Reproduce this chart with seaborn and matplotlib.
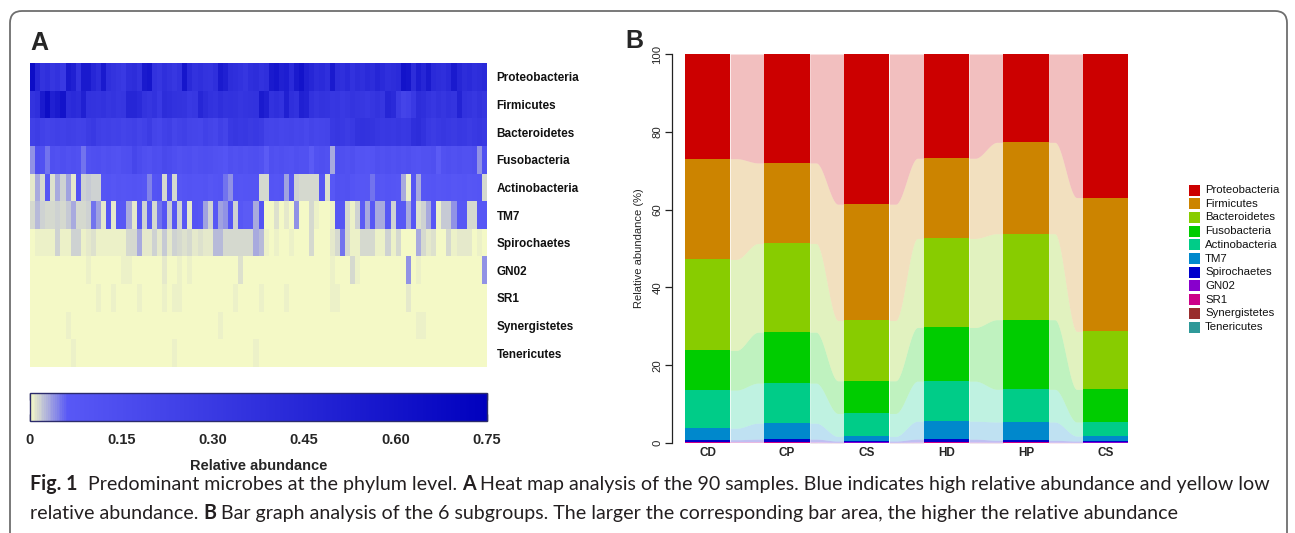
import numpy as np
import pandas as pd
import seaborn as sns
import matplotlib
matplotlib.use("Agg")
import matplotlib.pyplot as plt
from matplotlib.colors import LinearSegmentedColormap
from matplotlib.patches import Rectangle, FancyBboxPatch
from matplotlib.transforms import IdentityTransform

W, H = 1295, 533

# ---- Panel A: heat map (relative abundance, 90 samples) ----
phyla = ["Proteobacteria", "Firmicutes", "Bacteroidetes", "Fusobacteria",
         "Actinobacteria", "TM7", "Spirochaetes", "GN02", "SR1",
         "Synergistetes", "Tenericutes"]

hm_proteobacteria = [
    0.65, 0.45, 0.35, 0.38, 0.33, 0.36, 0.30, 0.55, 0.50, 0.35,
    0.55, 0.55, 0.45, 0.40, 0.55, 0.38, 0.35, 0.33, 0.30, 0.38,
    0.40, 0.35, 0.55, 0.58, 0.36, 0.33, 0.38, 0.35, 0.32, 0.36,
    0.58, 0.42, 0.36, 0.38, 0.35, 0.34, 0.38, 0.55, 0.50, 0.40,
    0.38, 0.36, 0.33, 0.38, 0.40, 0.36, 0.38, 0.55, 0.58, 0.50,
    0.52, 0.42, 0.55, 0.60, 0.50, 0.45, 0.40, 0.42, 0.38, 0.55,
    0.40, 0.38, 0.42, 0.36, 0.40, 0.38, 0.42, 0.40, 0.45, 0.42,
    0.38, 0.40, 0.42, 0.60, 0.58, 0.40, 0.52, 0.45, 0.55, 0.42,
    0.40, 0.38, 0.42, 0.55, 0.45, 0.40, 0.42, 0.38, 0.40, 0.42]
hm_firmicutes = [
    0.35, 0.38, 0.55, 0.65, 0.50, 0.55, 0.60, 0.40, 0.42, 0.40,
    0.50, 0.36, 0.35, 0.34, 0.36, 0.33, 0.34, 0.32, 0.33, 0.45,
    0.45, 0.42, 0.35, 0.33, 0.36, 0.30, 0.40, 0.38, 0.36, 0.35,
    0.34, 0.30, 0.32, 0.45, 0.40, 0.36, 0.34, 0.38, 0.35, 0.36,
    0.35, 0.33, 0.34, 0.35, 0.36, 0.55, 0.50, 0.36, 0.38, 0.36,
    0.50, 0.38, 0.36, 0.50, 0.48, 0.36, 0.33, 0.35, 0.34, 0.32,
    0.33, 0.30, 0.32, 0.34, 0.33, 0.32, 0.30, 0.33, 0.35, 0.33,
    0.45, 0.42, 0.28, 0.22, 0.24, 0.30, 0.40, 0.38, 0.34, 0.32,
    0.35, 0.33, 0.36, 0.34, 0.48, 0.36, 0.34, 0.32, 0.35, 0.33]
hm_bacteroidetes = [
    0.25, 0.27, 0.24, 0.22, 0.23, 0.25, 0.24, 0.26, 0.25, 0.23,
    0.24, 0.28, 0.30, 0.26, 0.24, 0.25, 0.23, 0.24, 0.22, 0.23,
    0.25, 0.22, 0.24, 0.28, 0.22, 0.20, 0.24, 0.26, 0.21, 0.23,
    0.25, 0.22, 0.21, 0.20, 0.24, 0.22, 0.20, 0.25, 0.22, 0.30,
    0.32, 0.30, 0.31, 0.29, 0.30, 0.28, 0.22, 0.21, 0.22, 0.20,
    0.21, 0.22, 0.20, 0.21, 0.19, 0.22, 0.20, 0.21, 0.22, 0.30,
    0.32, 0.30, 0.28, 0.30, 0.35, 0.36, 0.35, 0.34, 0.32, 0.30,
    0.31, 0.30, 0.32, 0.30, 0.31, 0.38, 0.40, 0.36, 0.30, 0.28,
    0.30, 0.32, 0.30, 0.29, 0.31, 0.30, 0.28, 0.30, 0.32, 0.30]
hm_fusobacteria = [
    0.04, 0.13, 0.12, 0.05, 0.13, 0.12, 0.14, 0.12, 0.13, 0.12,
    0.05, 0.12, 0.13, 0.14, 0.12, 0.13, 0.12, 0.11, 0.13, 0.14,
    0.20, 0.16, 0.13, 0.12, 0.15, 0.14, 0.18, 0.16, 0.14, 0.12,
    0.13, 0.14, 0.12, 0.13, 0.14, 0.13, 0.12, 0.11, 0.09, 0.13,
    0.12, 0.13, 0.12, 0.13, 0.14, 0.12, 0.06, 0.13, 0.12, 0.13,
    0.12, 0.11, 0.13, 0.12, 0.12, 0.06, 0.12, 0.13, 0.12, 0.03,
    0.14, 0.13, 0.12, 0.13, 0.10, 0.10, 0.09, 0.10, 0.13, 0.12,
    0.13, 0.12, 0.13, 0.12, 0.13, 0.11, 0.10, 0.12, 0.12, 0.13,
    0.06, 0.12, 0.13, 0.12, 0.13, 0.12, 0.12, 0.13, 0.04, 0.12]
hm_actinobacteria = [
    0.008, 0.030, 0.012, 0.080, 0.010, 0.030, 0.015, 0.035, 0.008, 0.090,
    0.015, 0.018, 0.015, 0.016, 0.085, 0.090, 0.080, 0.095, 0.085, 0.090,
    0.100, 0.090, 0.080, 0.045, 0.090, 0.100, 0.012, 0.090, 0.012, 0.080,
    0.090, 0.100, 0.090, 0.090, 0.100, 0.080, 0.090, 0.100, 0.050, 0.040,
    0.090, 0.085, 0.090, 0.095, 0.090, 0.012, 0.012, 0.090, 0.085, 0.090,
    0.035, 0.080, 0.015, 0.012, 0.013, 0.012, 0.012, 0.080, 0.010, 0.070,
    0.120, 0.110, 0.120, 0.090, 0.080, 0.075, 0.080, 0.050, 0.085, 0.080,
    0.090, 0.085, 0.080, 0.030, 0.003, 0.080, 0.030, 0.080, 0.085, 0.090,
    0.080, 0.085, 0.090, 0.080, 0.085, 0.090, 0.080, 0.085, 0.090, 0.012]
hm_tm7 = [
    0.014, 0.025, 0.015, 0.014, 0.014, 0.016, 0.014, 0.020, 0.030, 0.014,
    0.013, 0.015, 0.050, 0.035, 0.008, 0.070, 0.008, 0.065, 0.070, 0.030,
    0.006, 0.070, 0.015, 0.060, 0.014, 0.050, 0.090, 0.020, 0.080, 0.015,
    0.070, 0.006, 0.090, 0.080, 0.035, 0.015, 0.070, 0.035, 0.040, 0.080,
    0.015, 0.070, 0.060, 0.060, 0.030, 0.090, 0.002, 0.002, 0.010, 0.002,
    0.008, 0.002, 0.040, 0.002, 0.002, 0.012, 0.003, 0.002, 0.002, 0.004,
    0.080, 0.080, 0.012, 0.004, 0.015, 0.060, 0.030, 0.070, 0.030, 0.030,
    0.070, 0.015, 0.070, 0.070, 0.030, 0.070, 0.010, 0.015, 0.030, 0.070,
    0.004, 0.020, 0.020, 0.040, 0.070, 0.070, 0.012, 0.012, 0.070, 0.070]
hm_spirochaetes = [
    0.002, 0.005, 0.003, 0.003, 0.003, 0.015, 0.005, 0.004, 0.015, 0.015,
    0.004, 0.008, 0.010, 0.004, 0.003, 0.004, 0.003, 0.003, 0.005, 0.012,
    0.012, 0.030, 0.008, 0.006, 0.015, 0.006, 0.020, 0.006, 0.015, 0.012,
    0.010, 0.012, 0.006, 0.010, 0.006, 0.006, 0.025, 0.025, 0.012, 0.012,
    0.013, 0.012, 0.014, 0.012, 0.030, 0.025, 0.004, 0.002, 0.004, 0.002,
    0.002, 0.003, 0.002, 0.002, 0.002, 0.012, 0.002, 0.002, 0.002, 0.008,
    0.012, 0.050, 0.012, 0.005, 0.005, 0.012, 0.012, 0.012, 0.005, 0.005,
    0.015, 0.005, 0.012, 0.002, 0.002, 0.002, 0.030, 0.012, 0.008, 0.010,
    0.002, 0.002, 0.012, 0.003, 0.008, 0.008, 0.008, 0.002, 0.003, 0.002]
hm_gn02 = [
    0.001, 0.001, 0.001, 0.001, 0.001, 0.001, 0.001, 0.001, 0.001, 0.001,
    0.001, 0.005, 0.001, 0.001, 0.001, 0.001, 0.001, 0.001, 0.003, 0.005,
    0.001, 0.001, 0.001, 0.001, 0.001, 0.001, 0.006, 0.001, 0.001, 0.005,
    0.001, 0.004, 0.001, 0.001, 0.001, 0.001, 0.001, 0.001, 0.001, 0.001,
    0.001, 0.010, 0.001, 0.001, 0.001, 0.001, 0.001, 0.001, 0.001, 0.001,
    0.001, 0.001, 0.001, 0.001, 0.001, 0.001, 0.001, 0.001, 0.001, 0.004,
    0.001, 0.001, 0.001, 0.012, 0.005, 0.001, 0.001, 0.001, 0.001, 0.001,
    0.001, 0.001, 0.001, 0.001, 0.040, 0.001, 0.004, 0.001, 0.001, 0.001,
    0.001, 0.001, 0.001, 0.001, 0.001, 0.001, 0.001, 0.001, 0.001, 0.040]
hm_sr1 = [
    0.001, 0.001, 0.001, 0.001, 0.001, 0.001, 0.001, 0.001, 0.001, 0.001,
    0.001, 0.001, 0.001, 0.004, 0.001, 0.001, 0.005, 0.001, 0.001, 0.001,
    0.001, 0.003, 0.001, 0.001, 0.001, 0.001, 0.004, 0.001, 0.005, 0.005,
    0.001, 0.001, 0.001, 0.001, 0.001, 0.001, 0.001, 0.001, 0.001, 0.001,
    0.005, 0.001, 0.001, 0.001, 0.001, 0.005, 0.001, 0.001, 0.001, 0.001,
    0.004, 0.001, 0.001, 0.001, 0.001, 0.001, 0.001, 0.001, 0.001, 0.005,
    0.005, 0.001, 0.001, 0.001, 0.001, 0.001, 0.001, 0.001, 0.001, 0.001,
    0.001, 0.001, 0.001, 0.001, 0.008, 0.001, 0.001, 0.001, 0.001, 0.001,
    0.001, 0.001, 0.001, 0.001, 0.001, 0.001, 0.001, 0.001, 0.001, 0.001]
hm_synergistetes = [
    0.001, 0.001, 0.001, 0.001, 0.001, 0.001, 0.001, 0.004, 0.001, 0.001,
    0.001, 0.001, 0.001, 0.001, 0.001, 0.001, 0.001, 0.001, 0.001, 0.001,
    0.001, 0.001, 0.001, 0.001, 0.001, 0.001, 0.001, 0.001, 0.001, 0.001,
    0.001, 0.001, 0.001, 0.001, 0.001, 0.001, 0.001, 0.004, 0.001, 0.001,
    0.001, 0.001, 0.001, 0.001, 0.001, 0.001, 0.001, 0.001, 0.001, 0.001,
    0.001, 0.001, 0.001, 0.001, 0.001, 0.001, 0.001, 0.001, 0.001, 0.001,
    0.001, 0.001, 0.001, 0.001, 0.001, 0.001, 0.001, 0.001, 0.001, 0.001,
    0.001, 0.001, 0.001, 0.001, 0.001, 0.001, 0.004, 0.003, 0.001, 0.001,
    0.001, 0.001, 0.001, 0.001, 0.001, 0.001, 0.001, 0.001, 0.001, 0.001]
hm_tenericutes = [
    0.001, 0.001, 0.001, 0.001, 0.001, 0.001, 0.001, 0.001, 0.004, 0.001,
    0.001, 0.001, 0.001, 0.001, 0.001, 0.001, 0.001, 0.001, 0.001, 0.001,
    0.001, 0.001, 0.001, 0.001, 0.001, 0.001, 0.001, 0.001, 0.003, 0.001,
    0.001, 0.001, 0.001, 0.001, 0.001, 0.001, 0.001, 0.001, 0.001, 0.001,
    0.001, 0.001, 0.001, 0.001, 0.003, 0.001, 0.001, 0.001, 0.001, 0.001,
    0.001, 0.001, 0.001, 0.001, 0.001, 0.001, 0.001, 0.001, 0.001, 0.001,
    0.001, 0.001, 0.001, 0.001, 0.001, 0.001, 0.001, 0.001, 0.001, 0.001,
    0.001, 0.001, 0.001, 0.001, 0.001, 0.001, 0.001, 0.001, 0.001, 0.001,
    0.002, 0.001, 0.001, 0.001, 0.001, 0.001, 0.001, 0.001, 0.001, 0.001]

cbar_ticks = [0, 0.15, 0.30, 0.45, 0.60, 0.75]
cbar_labels = ["0", "0.15", "0.30", "0.45", "0.60", "0.75"]

# ---- Panel B: stacked bars (%, 6 subgroups) ----
groups = ["CD", "CP", "CS", "HD", "HP", "CS"]
bar_proteobacteria = [26.9, 28.0, 38.6, 26.8, 22.7, 36.9]
bar_firmicutes = [25.9, 20.7, 29.9, 20.6, 23.5, 34.4]
bar_bacteroidetes = [23.4, 22.8, 15.5, 22.9, 22.1, 14.9]
bar_fusobacteria = [10.2, 13.1, 8.4, 13.8, 17.9, 8.4]
bar_actinobacteria = [9.8, 10.3, 5.9, 10.3, 8.4, 3.6]
bar_tm7 = [2.95, 4.1, 1.2, 4.6, 4.7, 1.3]
bar_spirochaetes = [0.5, 0.65, 0.3, 0.7, 0.45, 0.3]
bar_gn02 = [0.15, 0.15, 0.08, 0.12, 0.10, 0.08]
bar_sr1 = [0.10, 0.10, 0.06, 0.10, 0.08, 0.06]
bar_synergistetes = [0.05, 0.05, 0.03, 0.04, 0.04, 0.03]
bar_tenericutes = [0.05, 0.05, 0.03, 0.04, 0.03, 0.03]

phylum_colors = ["#CC0000", "#CC8400", "#88CC00", "#00CC00", "#00CC88",
                 "#0088CC", "#0000CC", "#8800CC", "#CC0088", "#992E2E",
                 "#2E9999"]


def px_box(left, top, right, bottom):
    return [left / W, 1 - bottom / H, (right - left) / W, (bottom - top) / H]


sns.set_theme(style="white")
plt.rcParams['font.family'] = ['Liberation Sans', 'DejaVu Sans']

fig = plt.figure(figsize=(W / 100, H / 100), dpi=100)

# rounded frame around the figure
frame = FancyBboxPatch((10, -40), 1277, 522 + 40,
                       boxstyle="round,pad=0,rounding_size=12",
                       transform=IdentityTransform(), fill=False,
                       edgecolor="#6e6e6e", linewidth=1.3)
fig.add_artist(frame)

fig.text(30 / W, 1 - 50 / H, "A", fontsize=18, fontweight="bold", va="baseline")
fig.text(625 / W, 1 - 48 / H, "B", fontsize=18, fontweight="bold", va="baseline")

# ---- heat map ----
hm_df = pd.DataFrame(
    [hm_proteobacteria, hm_firmicutes, hm_bacteroidetes, hm_fusobacteria,
     hm_actinobacteria, hm_tm7, hm_spirochaetes, hm_gn02, hm_sr1,
     hm_synergistetes, hm_tenericutes],
    index=phyla)

abundance_cmap = LinearSegmentedColormap.from_list(
    "abund", [(0.0, "#F4F9C6"), (0.08, "#5858F6"), (1.0, "#0000BE")])

ax_hm = fig.add_axes(px_box(30, 63, 487, 367))
ax_cb = fig.add_axes(px_box(30, 393, 487, 421))
sns.heatmap(hm_df, ax=ax_hm, cmap=abundance_cmap, vmin=0, vmax=0.75,
            cbar_ax=ax_cb,
            cbar_kws={"orientation": "horizontal", "ticks": cbar_ticks},
            xticklabels=False, yticklabels=True, linewidths=0)
ax_hm.yaxis.tick_right()
ax_hm.tick_params(axis="y", length=0, pad=7)
for lab in ax_hm.get_yticklabels():
    lab.set_rotation(0)
    lab.set_fontweight("bold")
    lab.set_fontsize(8.5)
    lab.set_color("#111111")
ax_hm.set_xlabel("")
ax_hm.set_ylabel("")

cb = ax_hm.collections[0].colorbar
cb.outline.set_edgecolor("#2b2b6b")
cb.outline.set_linewidth(1.0)
cb.set_ticks(cbar_ticks)
cb.set_ticklabels(cbar_labels)
ax_cb.tick_params(axis="x", direction="in", length=5, width=1.0,
                  color="#1a1a4a", top=True, bottom=True,
                  labelsize=10.5, pad=9)
for lab in ax_cb.get_xticklabels():
    lab.set_fontweight("bold")
ax_cb.set_xlabel("Relative abundance", fontsize=10.5, fontweight="bold",
                 labelpad=8)

# ---- stacked bars with flowing ribbons ----
ax_b = fig.add_axes(px_box(672, 54, 1130, 443))
layers = [bar_tenericutes, bar_synergistetes, bar_sr1, bar_gn02,
          bar_spirochaetes, bar_tm7, bar_actinobacteria, bar_fusobacteria,
          bar_bacteroidetes, bar_firmicutes, bar_proteobacteria]
layer_colors = phylum_colors[::-1]

xpos = np.arange(len(groups))
bw = 0.57
cum = np.zeros(len(groups))
for vals, col in zip(layers, layer_colors):
    vals = np.asarray(vals)
    top = cum + vals
    ax_b.bar(xpos, vals, bottom=cum, width=bw, color=col, linewidth=0,
             zorder=3)
    for i in range(len(groups) - 1):
        xs = np.linspace(xpos[i] + bw / 2, xpos[i + 1] - bw / 2, 80)
        s = (xs - xs[0]) / (xs[-1] - xs[0])
        s = np.clip((s - 0.18) / 0.64, 0, 1)
        s = s * s * (3 - 2 * s)
        lo = cum[i] + (cum[i + 1] - cum[i]) * s
        hi = top[i] + (top[i + 1] - top[i]) * s
        ax_b.fill_between(xs, lo, hi, color=col, alpha=0.25, linewidth=0,
                          zorder=2)
    cum = top

ax_b.set_xlim(-0.446, 5.308)
ax_b.set_ylim(0, 100)
for side in ["top", "right", "bottom"]:
    ax_b.spines[side].set_visible(False)
ax_b.spines["left"].set_bounds(0, 100)
ax_b.spines["left"].set_color("#222222")
ax_b.spines["left"].set_linewidth(0.9)
ax_b.set_yticks([0, 20, 40, 60, 80, 100])
ax_b.set_yticklabels(["0", "20", "40", "60", "80", "100"], rotation=90,
                     va="center", fontsize=8.2)
ax_b.tick_params(axis="y", left=True, length=5, width=0.9, pad=2,
                 color="#222222")
ax_b.set_xticks(xpos)
ax_b.set_xticklabels(groups, fontsize=8.5, fontweight="bold")
ax_b.tick_params(axis="x", length=0, pad=3)
ax_b.set_ylabel("Relative abundance (%)", fontsize=8, labelpad=6)

# legend drawn at the right of panel B
for i, (name, col) in enumerate(zip(phyla, phylum_colors)):
    yc = 190 + i * 13.7
    fig.add_artist(Rectangle((1189 / W, 1 - (yc + 5.5) / H), 11 / W, 11 / H,
                             transform=fig.transFigure, facecolor=col,
                             edgecolor="none"))
    fig.text(1205 / W, 1 - yc / H, name, fontsize=8.2, va="center",
             ha="left", color="#111111")

# ---- caption ----
cap_font = ["Lato", "DejaVu Sans"]
cap_line1 = [("Fig. 1", "bold"),
             ("Predominant microbes at the phylum level.", "normal"),
             ("A", "bold"),
             ("Heat map analysis of the 90 samples. Blue indicates high "
              "relative abundance and yellow low", "normal")]
cap_gaps1 = [2, 1, 1]
cap_line2 = [("relative abundance.", "normal"),
             ("B", "bold"),
             ("Bar graph analysis of the 6 subgroups. The larger the "
              "corresponding bar area, the higher the relative abundance",
              "normal")]
cap_gaps2 = [1, 1]

renderer = fig.canvas.get_renderer()


def text_width(s, size, weight="normal"):
    t = fig.text(0, 0, s, fontsize=size, fontweight=weight, family=cap_font)
    w = t.get_window_extent(renderer).width
    t.remove()
    return w


def draw_runs(runs, gaps, x0, ybase, size):
    space = text_width("x x", size) - text_width("xx", size)
    x = x0
    for k, (txt, weight) in enumerate(runs):
        t = fig.text(x / W, 1 - ybase / H, txt, fontsize=size,
                     fontweight=weight, family=cap_font, color="#231f20",
                     va="baseline", ha="left")
        x += t.get_window_extent(renderer).width
        if k < len(gaps):
            x += gaps[k] * space
    return x


# fit the first caption line to the width it has in the figure
probe = 12.0
w_probe = sum(text_width(t, probe, wt) for t, wt in cap_line1) + \
    4 * (text_width("x x", probe) - text_width("xx", probe))
cap_size = probe * (1264 - 30) / w_probe
draw_runs(cap_line1, cap_gaps1, 30, 490, cap_size)
draw_runs(cap_line2, cap_gaps2, 30, 519, cap_size)

fig.savefig("out.png", dpi=100)
